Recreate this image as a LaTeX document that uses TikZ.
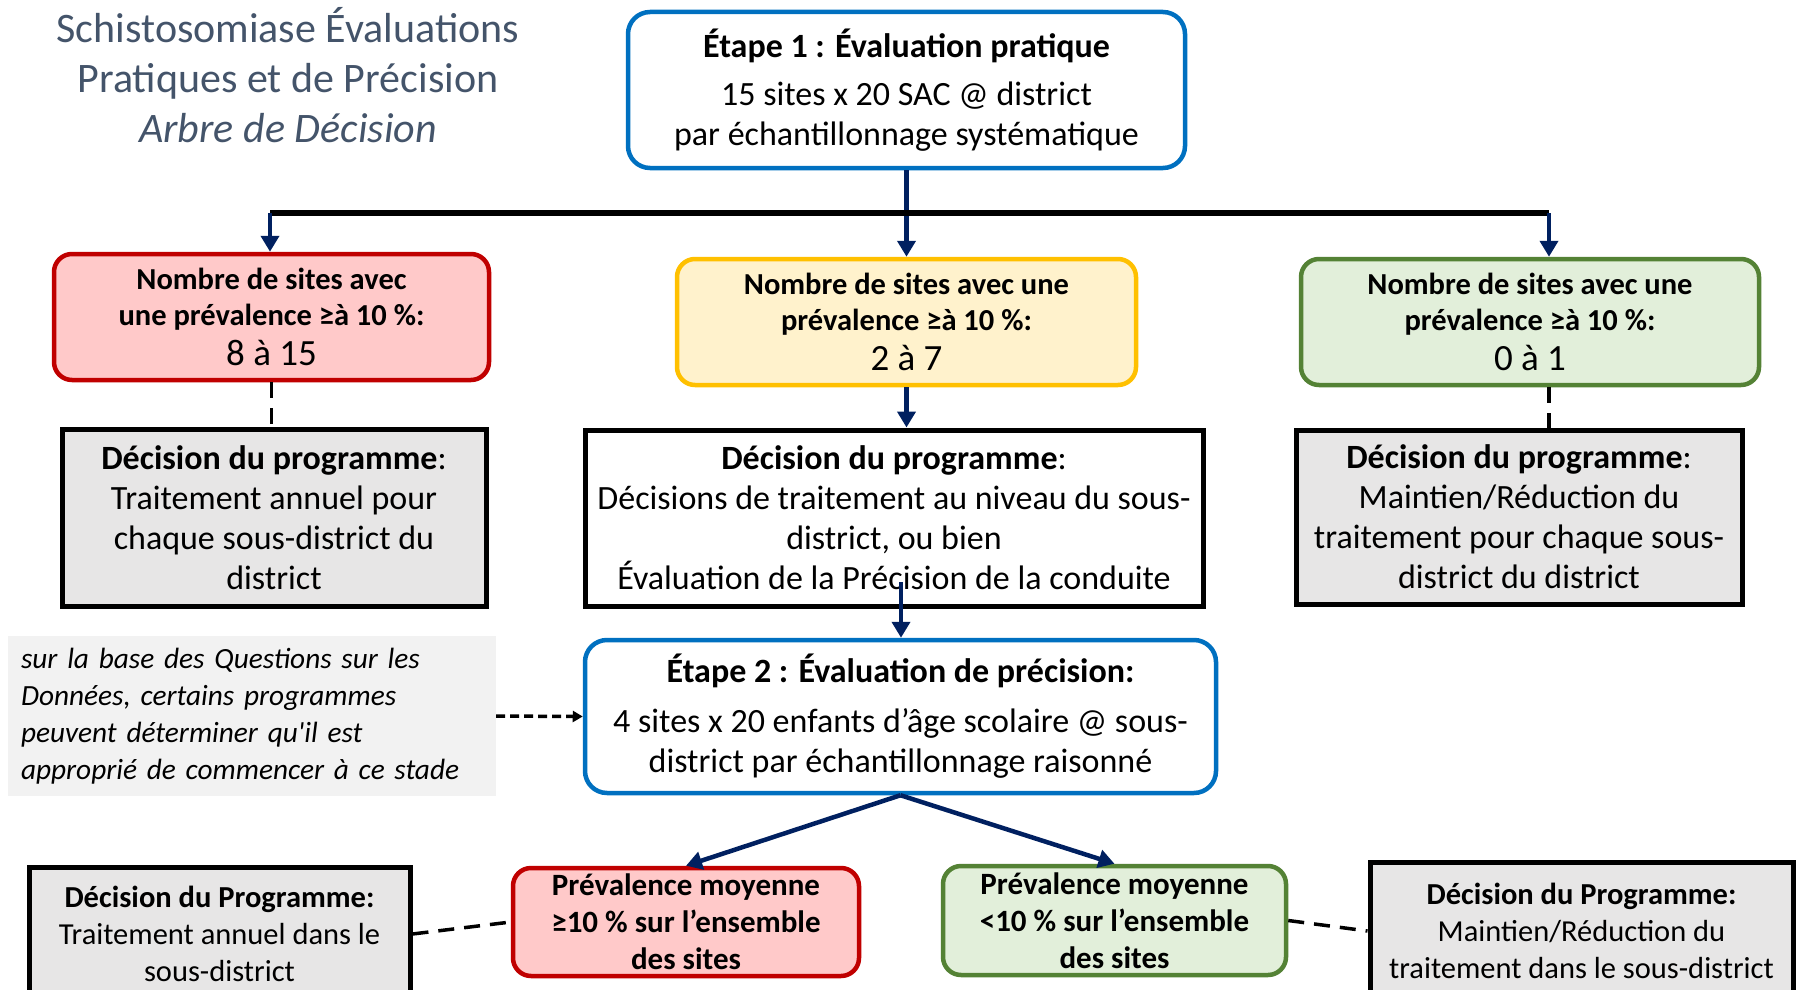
\documentclass[tikz,border=0pt]{standalone}
\usepackage{fontspec}
\setmainfont{Carlito}
\usetikzlibrary{arrows.meta,calc}
\definecolor{titleC}{HTML}{44546A}
\definecolor{eblue}{HTML}{0070C0}
\definecolor{redB}{HTML}{C00000}
\definecolor{redF}{HTML}{FFC9C9}
\definecolor{yelB}{HTML}{FFC000}
\definecolor{yelF}{HTML}{FFF2CC}
\definecolor{grnB}{HTML}{548235}
\definecolor{grnF}{HTML}{E2EFDA}
\definecolor{grayF}{HTML}{E7E6E6}
\definecolor{noteF}{HTML}{F2F2F2}
\definecolor{navyC}{HTML}{002060}
\begin{document}
\begin{tikzpicture}[x=1pt,y=-1pt,
  box/.style={draw, align=center, inner sep=0pt, line width=4.5pt},
  ebox/.style={box, draw=eblue, fill=white, rounded corners=22pt},
  redbox/.style={box, draw=redB, fill=redF, rounded corners=18pt},
  yelbox/.style={box, draw=yelB, fill=yelF, rounded corners=18pt},
  grnbox/.style={box, draw=grnB, fill=grnF, rounded corners=18pt},
  decbox/.style={box, draw=black, line width=5pt},
  bodyfont/.style={font=\fontsize{34}{40}\selectfont},
  boldfont/.style={font=\fontsize{30.5}{36}\selectfont\bfseries},
  smallfont/.style={font=\fontsize{30.5}{37}\selectfont},
  navyarr/.style={draw=navyC, line width=4.5pt, -{Triangle[length=16pt,width=18pt]}},
  blackline/.style={draw=black, line width=5.5pt},
  dline/.style={draw=black, line width=3.5pt, dash pattern=on 16pt off 10pt},
  darr/.style={draw=black, line width=3.5pt, dash pattern=on 9pt off 5pt, -{Triangle[length=10pt,width=11pt]}}
]
\useasboundingbox (0,0) rectangle (1799,990);

% title
\node[align=center, text=titleC, font=\fontsize{42}{50}\selectfont, inner sep=0pt] (title) at (288,75)
  {Schistosomiase Évaluations\\Pratiques et de Précision\\\textit{Arbre de Décision}};

% step 1
\node[ebox, bodyfont, minimum width=557pt, minimum height=156pt] (e1) at (906.5,90)
  {{\bfseries Étape 1 : Évaluation pratique}\\[8pt]15 sites x 20 SAC @ district\\par échantillonnage systématique};

% level 2
\node[redbox, boldfont, minimum width=435pt, minimum height=126pt] (r1) at (271.5,317)
  {Nombre de sites avec\\une prévalence ≥à 10~\%:\\[4pt]{\mdseries\fontsize{37}{40}\selectfont 8 à 15}};
\node[yelbox, boldfont, minimum width=459pt, minimum height=126pt] (y1) at (906.5,322)
  {Nombre de sites avec une\\prévalence ≥à 10~\%:\\[4pt]{\mdseries\fontsize{37}{40}\selectfont 2 à 7}};
\node[grnbox, boldfont, minimum width=458pt, minimum height=126pt] (g1) at (1530,322)
  {Nombre de sites avec une\\prévalence ≥à 10~\%:\\[4pt]{\mdseries\fontsize{37}{40}\selectfont 0 à 1}};

% decisions
\node[decbox, fill=grayF, bodyfont, minimum width=424pt, minimum height=177pt] (dl) at (274,517.5)
  {\textbf{Décision du programme}:\\Traitement annuel pour\\chaque sous-district du\\district};
\node[decbox, fill=white, bodyfont, minimum width=618pt, minimum height=176pt] (dm) at (894,518)
  {\textbf{Décision du programme}:\\Décisions de traitement au niveau du sous-\\district, ou bien\\Évaluation de la Précision de la conduite};
\node[decbox, fill=grayF, bodyfont, minimum width=446pt, minimum height=174pt] (dr) at (1519,517)
  {\textbf{Décision du programme}:\\Maintien/Réduction du\\traitement pour chaque sous-\\district du district};

% note
\node[fill=noteF, inner sep=0pt, minimum width=488pt, minimum height=160pt, text width=462pt, align=left,
  font=\fontsize{29.3}{37}\selectfont\itshape] (note) at (252,716)
  {sur la base des Questions sur les\\Données, certains programmes\\peuvent déterminer qu\textquotesingle il est\\approprié de commencer à ce stade};

% step 2
\node[ebox, bodyfont, minimum width=631pt, minimum height=153pt] (e2) at (900.5,716.5)
  {{\bfseries Étape 2 : Évaluation de précision:}\\[10pt]4 sites x 20 enfants d’âge scolaire @ sous-\\district par échantillonnage raisonné};

% level 3
\node[redbox, font=\fontsize{31}{37}\selectfont\bfseries, minimum width=346pt, minimum height=108pt] (r2) at (686,922)
  {Prévalence moyenne\\≥10~\% sur l’ensemble\\des sites};
\node[grnbox, font=\fontsize{31}{37}\selectfont\bfseries, minimum width=343pt, minimum height=109pt] (g2) at (1114.5,920.5)
  {Prévalence moyenne\\<10~\% sur l’ensemble\\des sites};
\node[decbox, fill=grayF, smallfont, minimum width=381pt, minimum height=134pt] (dl2) at (219.5,934)
  {\textbf{Décision du Programme:}\\Traitement annuel dans le\\sous-district};
\node[decbox, fill=grayF, smallfont, minimum width=423pt, minimum height=138pt] (dr2) at (1581.5,931)
  {\textbf{Décision du Programme:}\\Maintien/Réduction du\\traitement dans le sous-district};

% connectors
\coordinate (bl) at (270,213);
\coordinate (br) at (1549,213);
\coordinate (mstart) at (901,582);
\draw[navyarr] (e1.south) -- (y1.north);
\draw[blackline] (bl) -- (br);
\draw[navyarr] (bl) -- (r1.north -| bl);
\draw[navyarr] (br) -- (g1.north -| br);
\draw[dline] (r1.south) -- (r1.south |- dl.north);
\draw[dline] (g1.south -| br) -- (dr.north -| br);
\draw[navyarr] (y1.south) -- (y1.south |- dm.north);
\draw[navyarr] (mstart) -- (e2.north -| mstart);
\draw[darr] (note.east) -- (e2.west);
\draw[navyarr] (e2.south) -- (r2.north);
\draw[navyarr] (e2.south) -- (g2.north);
\draw[dline] (dl2.east) -- (r2.west);
\draw[dline] (g2.east) -- (dr2.west);
\end{tikzpicture}
\end{document}
